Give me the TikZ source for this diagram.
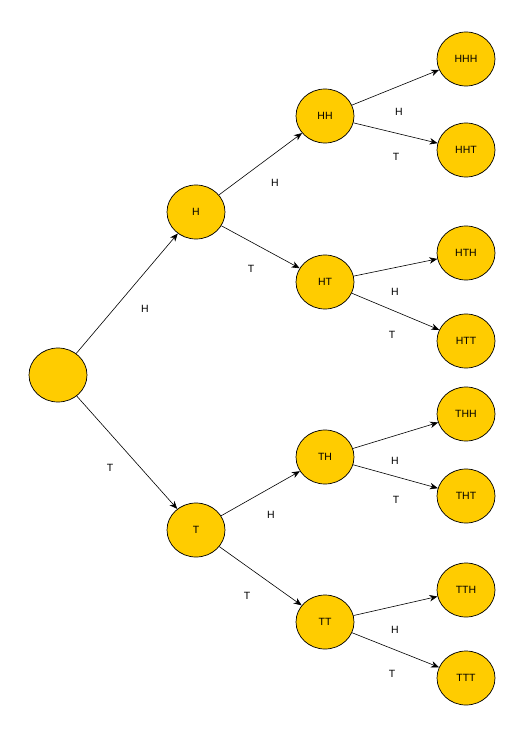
\documentclass[tikz,border=0pt]{standalone}
\usepackage{fontspec}
\setmainfont{Liberation Sans}
\usetikzlibrary{arrows.meta,shapes.geometric}
\definecolor{coinyellow}{HTML}{FFCC00}
\begin{document}
\begin{tikzpicture}[x=1pt,y=-1pt,
    coin/.style={ellipse,draw=black,fill=coinyellow,line width=.7pt,minimum width=58pt,minimum height=54pt,inner sep=0pt,font=\fontsize{10.5}{12}\selectfont},
    toss/.style={-{Stealth[length=8pt,width=6.5pt,inset=2.5pt]},line width=.6pt},
    side/.style={font=\fontsize{10.5}{12}\selectfont,inner sep=0pt}]
		\newcommand{\colA}{58}
		\newcommand{\colB}{196}
		\newcommand{\colC}{325}
		\newcommand{\colD}{466}
	
		\useasboundingbox (0,0) rectangle (515,735);
	
		% root and first toss
		\node[coin] (root) at (\colA,375) {};
		\node[coin] (H) at (\colB,212) {H};
		\node[coin] (T) at (\colB,530) {T};
	
		% second toss
		\node[coin] (HH) at (\colC,116) {HH};
		\node[coin] (HT) at (\colC,282) {HT};
		\node[coin] (TH) at (\colC,457) {TH};
		\node[coin] (TT) at (\colC,622) {TT};
	
		% third toss
		\foreach \nm/\y in {HHH/59,HHT/150,HTH/253,HTT/341,THH/414,THT/496,TTH/590,TTT/678}
			\node[coin] (\nm) at (\colD,\y) {\nm};
	
		% arrows
		\draw[toss] (root) -- (H);
		\draw[toss] (root) -- (T);
		\foreach \a in {H,T}
		{
			\draw[toss] (\a) -- (\a H);
			\draw[toss] (\a) -- (\a T);
			\foreach \b in {H,T}
			{
				\draw[toss] (\a\b) -- (\a\b H);
				\draw[toss] (\a\b) -- (\a\b T);
			}
		}
	
		% labels on the arrows
		\node[side] (lH) at (145,309) {H};
		\node[side] (lT) at (110,468) {T};
		\node[side] (lHH) at (275,183) {H};
		\node[side] (lHT) at (251,269) {T};
		\node[side] (lTH) at (271,515) {H};
		\node[side] (lTT) at (247,596) {T};
		\foreach \nm/\x/\y/\s in {HHH/399/112/H,HHT/396/157/T,HTH/395/292/H,HTT/392/335/T,THH/395/461/H,THT/396/500/T,TTH/395/630/H,TTT/392/674/T}
			\node[side] (l\nm) at (\x,\y) {\s};
\end{tikzpicture}
\end{document}
